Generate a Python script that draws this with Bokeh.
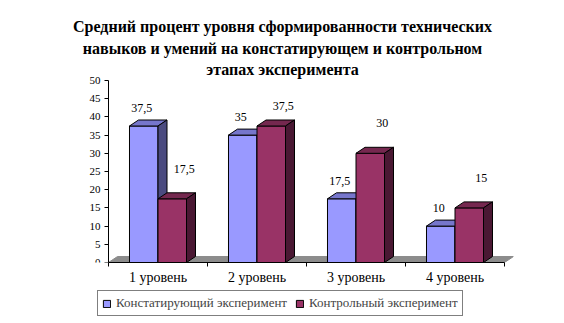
import numpy as np
from bokeh.plotting import figure
from bokeh.layouts import column
from bokeh.models import Range1d, FixedTicker, Legend, LegendItem, Label
from bokeh.core.properties import value
from bokeh.embed import file_html
from bokeh.resources import INLINE

# ---- data ----
title_lines = ["Средний процент уровня сформированности технических",
               "навыков и умений на констатирующем и контрольном",
               "этапах эксперимента"]
categories = ["1 уровень", "2 уровень", "3 уровень", "4 уровень"]
series_names = ["Констатирующий эксперимент", "Контрольный эксперимент"]
stating = [37.5, 35, 17.5, 10]
control = [17.5, 37.5, 30, 15]
y_ticks = [0, 5, 10, 15, 20, 25, 30, 35, 40, 45, 50]

FONT = "'Liberation Serif', 'Times New Roman', serif"
W = 564
H1, H2 = 290, 33
FL, FR = 51, 513          # frame box horizontally (centred on the page)
AX0 = 108                 # pixel where the category axis starts
PXC = 99.0                # pixels per category
Y0PX = 262                # pixel row of value 0
PXY = 3.64                # pixels per unit of value
n = len(categories)
DX = 9 / PXC
DY = 6 / PXY
BW = 0.288
OFF = [0.212, 0.5]
colors = [dict(front="#9999FF", top="#7676CC", side="#4B4B80"),
          dict(front="#993366", top="#75284F", side="#4A1833")]

p = figure(width=W, height=H1,
           x_range=Range1d(-(AX0 - FL) / PXC, (FR - AX0) / PXC),
           y_range=Range1d(0, Y0PX / PXY),
           output_backend="svg", toolbar_location=None, title_location=None,
           min_border_left=FL, min_border_right=W - FR, min_border_top=0,
           min_border_bottom=H1 - Y0PX)
p.outline_line_color = None
p.grid.visible = False
p.background_fill_color = "white"
p.border_fill_color = "white"

# floor
p.patch([0, n, n + DX, DX], [0, 0, DY, DY], fill_color="#8C8C8C", line_color="#8C8C8C")

fronts = []
for s, vals in enumerate([stating, control]):
    c = colors[s]
    x0 = np.arange(n) + OFF[s]
    x1 = x0 + BW
    v = np.array(vals, dtype=float)
    fronts.append(p.quad(left=x0, right=x1, bottom=0, top=v, fill_color=c["front"],
                         line_color="black", line_width=1))
    p.patches([[a, b, b + DX, a + DX] for a, b in zip(x0, x1)],
              [[t, t, t + DY, t + DY] for t in v],
              fill_color=c["top"], line_color="black", line_width=1)
    p.patches([[b, b + DX, b + DX, b] for b in x1],
              [[0, DY, t + DY, t] for t in v],
              fill_color=c["side"], line_color="black", line_width=1)
    labels = [f"{t:g}".replace(".", ",") for t in v]
    if s == 0:
        lx = (x0 + x1) / 2 - 2 / PXC
        ly = v + 5.0
    else:
        lx = (x0 + x1) / 2 + 12 / PXC
        ly = np.minimum(v + 8.2, 43.0)
    p.text(x=lx, y=ly, text=labels, text_font=value(FONT), text_font_size="12px",
           text_align="center", text_baseline="middle", text_color="black")

# axes
p.xaxis.ticker = FixedTicker(ticks=[i + 0.5 for i in range(n)], minor_ticks=list(range(n + 1)))
p.xaxis.major_label_overrides = {i + 0.5: categories[i] for i in range(n)}
p.xaxis.major_tick_out = 0
p.xaxis.major_tick_in = 0
p.xaxis.minor_tick_out = 4
p.xaxis.minor_tick_in = 0
p.xaxis.bounds = (0, n)
p.xaxis.major_label_standoff = 3
p.xaxis.major_label_text_font = FONT
p.xaxis.major_label_text_font_size = "14px"
p.xaxis.major_label_text_color = "black"
p.xaxis.axis_line_color = "black"

p.yaxis.fixed_location = 0
p.yaxis.ticker = FixedTicker(ticks=y_ticks, minor_ticks=[])
p.yaxis.major_tick_out = 4
p.yaxis.major_tick_in = 0
p.yaxis.bounds = (0, 50)
p.yaxis.major_label_standoff = 4
p.yaxis.major_label_text_font = FONT
p.yaxis.major_label_text_font_size = "11px"
p.yaxis.major_label_text_color = "black"
p.yaxis.axis_line_color = "black"

# title (three centred lines)
for k, line in enumerate(title_lines):
    p.add_layout(Label(x=W / 2, y=26 + 21.5 * k, x_units="canvas", y_units="canvas", text=line,
                       text_align="center", text_baseline="middle", text_font=FONT,
                       text_font_style="bold", text_font_size="16px", text_color="black"))

# legend strip
q = figure(width=W, height=H2, x_range=Range1d(0, 1), y_range=Range1d(0, 1),
           output_backend="svg", toolbar_location=None, title_location=None,
           x_axis_location=None, y_axis_location=None,
           min_border_left=0, min_border_right=0, min_border_top=0, min_border_bottom=0)
q.outline_line_color = None
q.grid.visible = False
items = []
for s in range(2):
    r = q.quad(left=[2], right=[3], bottom=[2], top=[3], fill_color=colors[s]["front"],
               line_color="black", line_width=1)
    items.append(LegendItem(label=series_names[s], renderers=[r]))
legend = Legend(items=items, orientation="horizontal", location=(46, 7),
                glyph_width=9, glyph_height=9, label_standoff=5, spacing=8, padding=4, margin=0,
                label_height=13, border_line_color="black", border_line_width=1,
                label_text_font=FONT, label_text_font_size="13px", background_fill_alpha=1)
q.add_layout(legend)

open("out.html", "w").write(file_html(column(p, q), INLINE))
